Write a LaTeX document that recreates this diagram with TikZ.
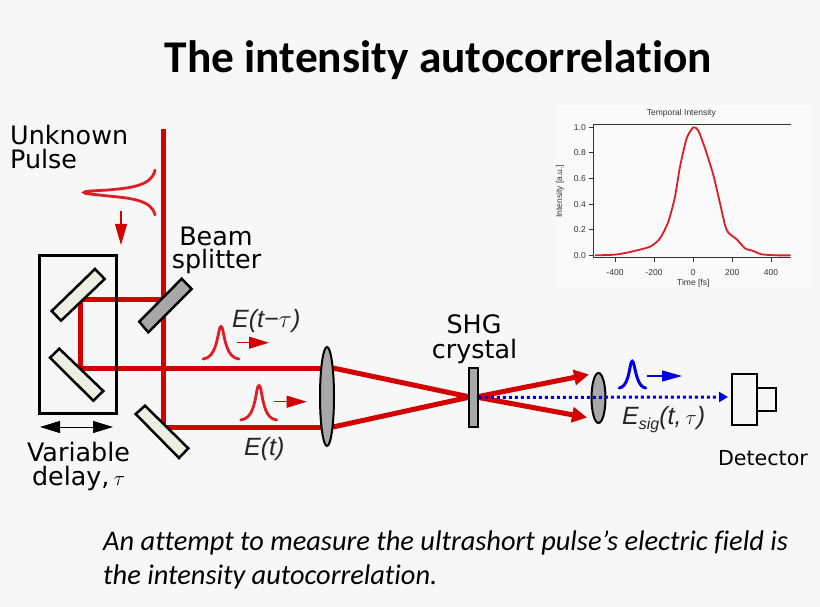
\documentclass[tikz,border=0pt]{standalone}
\usepackage{fontspec}
\setmainfont{DejaVu Sans}
\newfontfamily\calibri[Ligatures=CommonOff,Contextuals=NoAlternate]{Carlito}
\newfontfamily\arialf{Liberation Sans}
\usetikzlibrary{arrows.meta,shapes.geometric}
\definecolor{bgc}{HTML}{F7F7F7}
\definecolor{beamred}{HTML}{D40000}
\definecolor{pulsered}{HTML}{E01C24}
\definecolor{pulseblue}{HTML}{0000E6}
\definecolor{mirrorfill}{HTML}{EEEEE2}
\definecolor{glass}{HTML}{A8A8A8}
\definecolor{axisgrey}{HTML}{333333}
\tikzset{
  x=1pt,y=-1pt,
  beam/.style={draw=beamred,line width=5pt},
  beamtip/.style={draw=beamred,line width=5pt,-{Triangle[length=15pt,width=15pt,fill=beamred]}},
  mirror/.style={draw=black,line width=2.5pt,fill=mirrorfill,line join=miter},
  splitter/.style={draw=black,line width=2.5pt,fill=glass},
  lens/.style={draw=black,line width=2pt,fill=glass,shape=ellipse,inner sep=0pt},
  pulse/.style={draw=pulsered,line width=2.8pt,line cap=round},
  smallarrow/.style={draw=beamred,line width=1.1pt,-{Triangle[length=20pt,width=12pt,fill=beamred]}},
  bluearrow/.style={draw=pulseblue,line width=1.1pt,-{Triangle[length=20pt,width=11pt,fill=pulseblue]}},
  label/.style={font=\fontsize{25.4}{25.4}\selectfont,anchor=base,text=black,inner sep=0pt},
  elabel/.style={font=\arialf\itshape\fontsize{25}{25}\selectfont,anchor=base west,inner sep=0pt,text=black!85},
  tick/.style={font=\arialf\fontsize{8.5}{8.5}\selectfont,text=axisgrey,inner sep=0pt},
  axisline/.style={draw=axisgrey,line width=1pt},
  caption/.style={font=\calibri\itshape\fontsize{28.4}{28.4}\selectfont,anchor=base west,inner sep=0pt},
  box/.style={draw=black,inner sep=0pt,shape=rectangle},
}
\begin{document}
\begin{tikzpicture}
\useasboundingbox[fill=bgc] (0,0) rectangle (820,607);
% title
\node[font=\calibri\bfseries\fontsize{45.4}{45.4}\selectfont,anchor=base,inner sep=0pt] (title) at (438.5,73) {The intensity autocorrelation};
% beam coordinates
\coordinate (in) at (163,129);
\coordinate (bs) at (163,299);
\coordinate (m3) at (163,427);
\coordinate (m1) at (80,299);
\coordinate (m2) at (80,368);
\coordinate (l1) at (327,368);
\coordinate (l2) at (327,427);
\coordinate (l1o) at (333,368);
\coordinate (l2o) at (333,427);
\coordinate (xt) at (470,397);
\coordinate (xr) at (476,397);
\coordinate (o1) at (589,374.5);
\coordinate (o2) at (587,417.5);
\coordinate (det) at (728,397);
% inset
\fill[white!35!bgc] (556,105) rectangle (812,288);
% beams
\draw[beam] (in) -- (m3) -- (l2);
\draw[beam] (bs) -- (m1) -- (m2) -- (l1);
\draw[beam] (l1o) -- (xt) -- (l2o);
\draw[beamtip] (xr) -- (o1);
\draw[beamtip] (xr) -- (o2);
% delay stage
\node[box,line width=3pt,minimum width=76.5pt,minimum height=158pt] (stage) at (77.75,334) {};
\draw[mirror] (95,269) -- (104.7,279) -- (61,320.7) -- (51.7,311) -- cycle;
\draw[mirror] (59.3,348.7) -- (50,357.7) -- (93.3,400.7) -- (103.3,391) -- cycle;
\draw[splitter] (181.7,278.7) -- (191.7,289) -- (148.3,332.3) -- (139.3,321.7) -- cycle;
\draw[mirror] (145,405.7) -- (135.7,414) -- (179,458) -- (188.3,448.3) -- cycle;
\draw[line width=1pt,{Triangle[length=20pt,width=12pt]}-{Triangle[length=20pt,width=12pt]}] (40,427) -- (113,427);
% lenses and crystal
\node[lens,minimum width=14pt,minimum height=99pt] (lensA) at (327,396.5) {};
\node[lens,minimum width=14pt,minimum height=50pt] (lensB) at (598.5,398) {};
\node[box,line width=1.8pt,fill=glass,minimum width=9pt,minimum height=59pt] (crystal) at (473.5,397.5) {};
% blue
\draw[draw=pulseblue,line width=3pt,dash pattern=on 3pt off 3pt,-{Triangle[length=9pt,width=10pt,fill=pulseblue]}] (crystal.east) -- (det);
% detector
\node[box,line width=2.5pt,minimum width=25pt,minimum height=51pt] (detA) at (744.5,399.5) {};
\node[box,line width=2.5pt,minimum width=19pt,minimum height=23pt] (detB) at (766.5,399.5) {};
% pulses
\draw[pulse] (155,170) .. controls (152,186) and (130,188) .. (108,190) .. controls (92,191) and (84,191) .. (84,192.5) .. controls (84,194) and (92,194) .. (108,196) .. controls (130,198) and (152,200) .. (155,215);
\draw[smallarrow,-{Triangle[length=21pt,width=12pt,fill=beamred]}] (121,211) -- (121,245);
\draw[pulse] (203,359) .. controls (215,358) and (217,340) .. (219,331) .. controls (220,325) and (222,325) .. (223,331) .. controls (225,340) and (227,358) .. (239,359);
\draw[smallarrow] (236.7,342.7) -- (269,342.7);
\draw[pulse] (240.7,420) .. controls (253,419) and (255,401) .. (257,390) .. controls (258,384) and (260,384) .. (261,390) .. controls (263,401) and (265,419) .. (276.7,420);
\draw[smallarrow] (274,401.7) -- (306.7,401.7);
\draw[pulse,draw=pulseblue,line width=3pt] (619.3,388) .. controls (627,387) and (629,373) .. (630.5,365) .. controls (631.5,360) and (633,360) .. (634,365) .. controls (636,373) and (638,387) .. (645.7,388);
\draw[bluearrow] (647.3,376) -- (682,376);
% labels
\node[label,anchor=base west] (unk) at (10,145) {Unknown};
\node[label,anchor=base west] (pls) at (10,169) {Pulse};
\node[label] (bm) at (216,245) {Beam};
\node[label] (spl) at (216.5,269) {splitter};
\node[label] (var) at (78.5,461) {Variable};
\node[label] (dly) at (78.5,485) {delay,\,{\fontsize{21}{21}\selectfont$\tau$}};
\node[label] (shg) at (474,333) {SHG};
\node[label] (cry) at (474.5,358) {crystal};
\node[label,font=\fontsize{20.6}{21}\selectfont] (dtc) at (763,465) {Detector};
\node[elabel] (e1) at (232,327) {E(t\textminus{\fontsize{23}{23}\selectfont$\tau$})};
\node[elabel] (e2) at (244,455) {E(t)};
\node[elabel] (e3) at (622,424) {E\raisebox{-5pt}{\fontsize{16}{16}\selectfont sig}(t,\,{\fontsize{20}{20}\selectfont$\tau$})};
% caption
\node[caption] (cap1) at (103,550) {An attempt to measure the ultrashort pulse’s electric field is};
\node[caption] (cap2) at (103,584) {the intensity autocorrelation.};
% plot, in zoom coordinates
\begin{scope}[shift={(550,100)},x=0.33333pt,y=-0.33333pt]
\node[tick] (pt) at (394,41) {Temporal Intensity};
\draw[axisline] (722,75) -- (130,75) -- (130,474) -- (722,474);
\foreach \v/\t in {82/1.0,159/0.8,236/0.6,313/0.4,390/0.2,467/0.0}{
  \draw[axisline] (116,\v) -- (130,\v);
  \node[tick,anchor=east] at (108,\v) {\t};
}
\foreach \v/\t in {195/-400,312/-200,430/0,547/200,663/400}{
  \draw[axisline] (\v,474) -- (\v,487);
  \node[tick] at (\v,517) {\t};
}
\node[tick] (px) at (430,550) {Time [fs]};
\node[tick,rotate=90] (py) at (30,274) {Intensity [a.u.]};
\draw[draw=pulsered,line width=1.8pt,line join=round] plot[smooth,tension=0.4] coordinates {(135,466) (195,464) (240,456) (300,440) (330,415) (355,365) (375,290) (390,200) (410,115) (430,82) (445,92) (465,145) (490,225) (510,310) (525,375) (535,398) (560,418) (585,445) (610,453) (635,463) (680,466) (722,466)};
\end{scope}
\end{tikzpicture}
\end{document}
